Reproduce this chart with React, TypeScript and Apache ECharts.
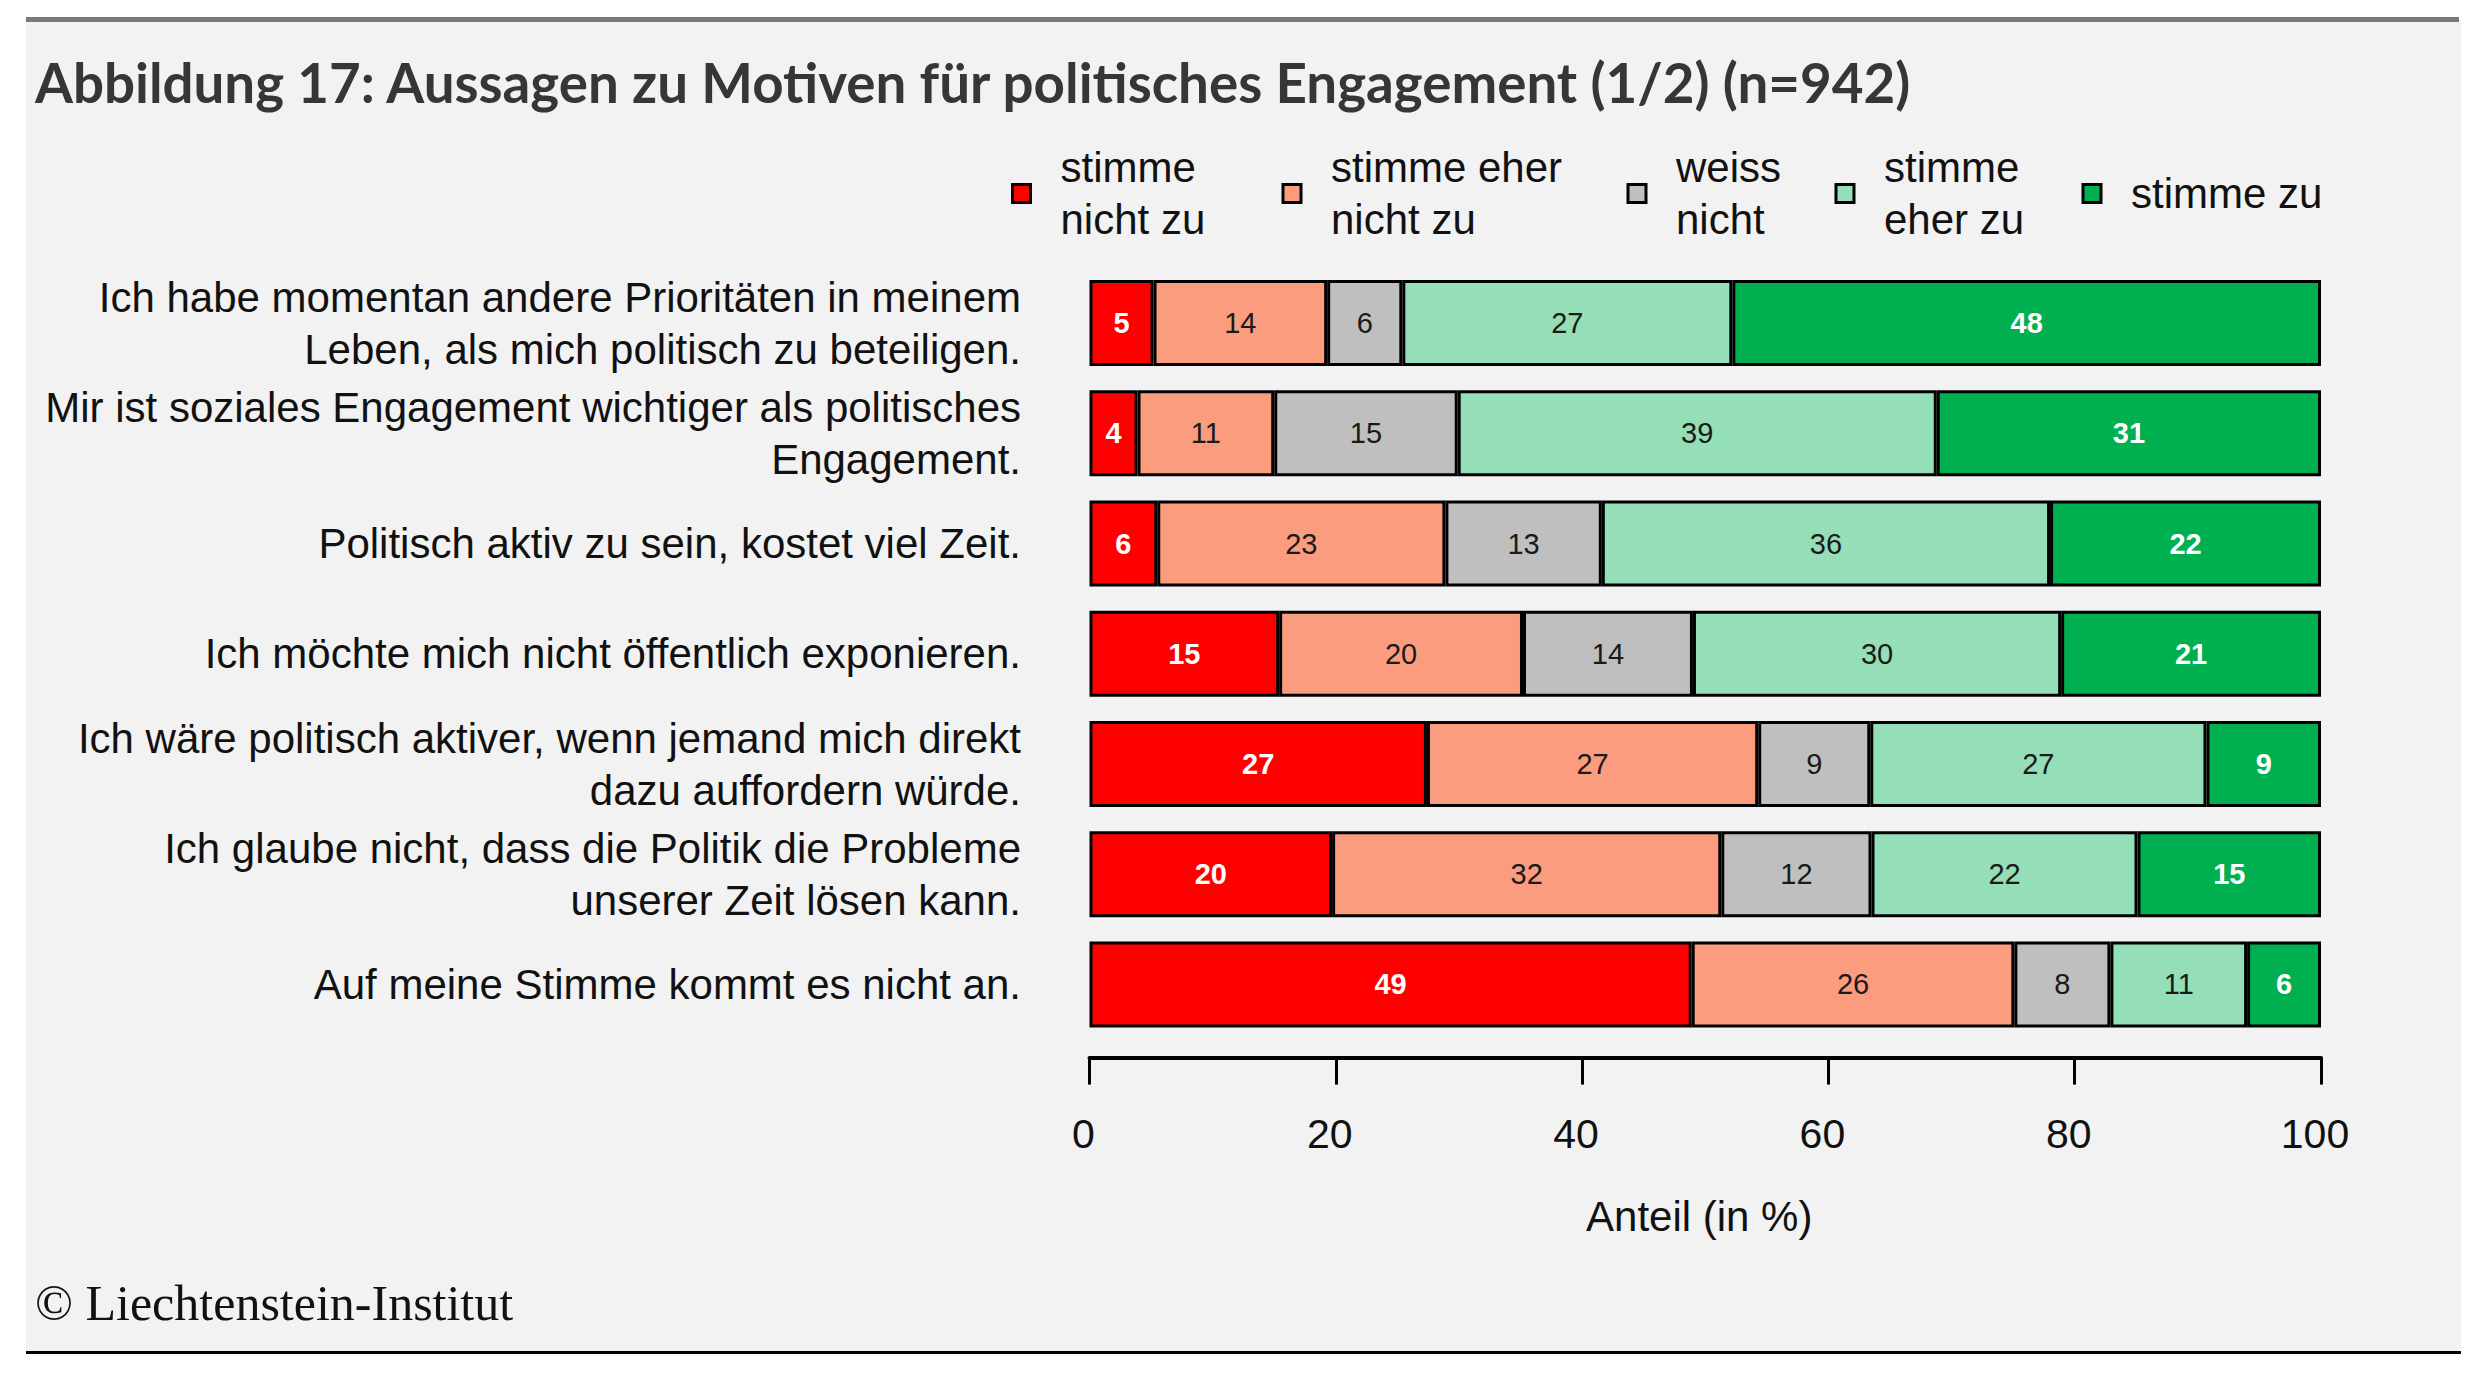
import React, { useEffect, useRef } from "react";
import * as echarts from "echarts";

const TITLE = "Abbildung 17: Aussagen zu Motiven für politisches Engagement (1/2) (n=942)";
const AXIS_NAME = "Anteil (in %)";
const COPYRIGHT = "© Liechtenstein-Institut";

const categories = [
  "Ich habe momentan andere Prioritäten in meinem\nLeben, als mich politisch zu beteiligen.",
  "Mir ist soziales Engagement wichtiger als politisches\nEngagement.",
  "Politisch aktiv zu sein, kostet viel Zeit.",
  "Ich möchte mich nicht öffentlich exponieren.",
  "Ich wäre politisch aktiver, wenn jemand mich direkt\ndazu auffordern würde.",
  "Ich glaube nicht, dass die Politik die Probleme\nunserer Zeit lösen kann.",
  "Auf meine Stimme kommt es nicht an.",
];

const seriesNames = [
  "stimme\nnicht zu",
  "stimme eher\nnicht zu",
  "weiss\nnicht",
  "stimme\neher zu",
  "stimme zu",
];

const stimmeNichtZu = [5.2, 3.9, 5.5, 15.4, 27.4, 19.7, 48.9];
const stimmeEherNichtZu = [14.1, 11.1, 23.4, 19.8, 26.9, 31.6, 26.2];
const weissNicht = [6.1, 14.9, 12.7, 13.8, 9.1, 12.2, 7.8];
const stimmeEherZu = [26.8, 38.9, 36.4, 29.9, 27.3, 21.6, 11.1];
const stimmeZu = [47.8, 31.2, 22.0, 21.1, 9.3, 14.9, 6.0];

const seriesValues = [stimmeNichtZu, stimmeEherNichtZu, weissNicht, stimmeEherZu, stimmeZu];
const colors = ["#FF0000", "#FA9C7D", "#BFBFBF", "#94DEB8", "#00B050"];
const labelColors = ["#FFFFFF", "#1a1a1a", "#1a1a1a", "#1a1a1a", "#FFFFFF"];
const labelWeights = ["bold", "normal", "normal", "normal", "bold"];

const xTicks = [0, 20, 40, 60, 80, 100];

const FONT = "'Liberation Sans', Arial, sans-serif";

export default function App() {
  const ref = useRef<HTMLDivElement>(null);

  useEffect(() => {
    if (!ref.current) return;
    const chart = echarts.init(ref.current, undefined, { renderer: "svg" });

    const legendLefts = [1011, 1281.5, 1626.5, 1834.5, 2081.5];

    const option: any = {
      animation: false,
      backgroundColor: "#FFFFFF",
      textStyle: { fontFamily: FONT },
      title: {
        text: TITLE,
        left: 35,
        top: 54,
        padding: 0,
        textStyle: {
          fontFamily: "Lato, 'Open Sans', sans-serif",
          fontWeight: "bold",
          fontSize: 54.7,
          color: "#363636",
        },
      },
      graphic: [
        {
          type: "rect",
          z: -10,
          silent: true,
          shape: { x: 26, y: 20, width: 2435, height: 1332 },
          style: { fill: "#F2F2F2" },
        },
        {
          type: "rect",
          z: -9,
          silent: true,
          shape: { x: 26, y: 17, width: 2433, height: 5 },
          style: { fill: "#7A7A7A" },
        },
        {
          type: "rect",
          z: -9,
          silent: true,
          shape: { x: 26, y: 1351, width: 2435, height: 3 },
          style: { fill: "#000000" },
        },
        {
          type: "text",
          z: 5,
          x: 35,
          y: 1303,
          style: {
            text: COPYRIGHT,
            font: "50px 'Liberation Serif', 'DejaVu Serif', serif",
            fill: "#111111",
            verticalAlign: "middle",
            align: "left",
          },
        },
      ],
      legend: seriesNames.map((name, i) => ({
        data: [name],
        left: legendLefts[i],
        top: name.indexOf("\n") >= 0 ? 141.5 : 167.5,
        padding: 0,
        itemWidth: 18,
        itemHeight: 18,
        itemGap: 0,
        icon: "rect",
        selectedMode: false,
        itemStyle: { borderColor: "#000000", borderWidth: 3 },
        textStyle: {
          fontFamily: FONT,
          fontSize: 42,
          lineHeight: 52,
          color: "#111111",
          padding: [0, 0, 0, 25],
        },
      })),
      grid: { left: 1089.5, right: 162, top: 268, bottom: 348.4, containLabel: false },
      xAxis: {
        type: "value",
        min: xTicks[0],
        max: xTicks[xTicks.length - 1],
        interval: 20,
        offset: 18,
        axisLine: { show: true, lineStyle: { color: "#000000", width: 4 } },
        axisTick: { show: true, length: 27, lineStyle: { color: "#000000", width: 3 } },
        splitLine: { show: false },
        axisLabel: {
          fontFamily: FONT,
          fontSize: 41,
          color: "#111111",
          margin: 56,
          padding: [0, 12, 0, 0],
        },
        name: AXIS_NAME,
        nameLocation: "middle",
        nameGap: 138,
        nameTextStyle: {
          fontFamily: FONT,
          fontSize: 42,
          color: "#111111",
          padding: [0, 12, 0, 0],
        },
      },
      yAxis: {
        type: "category",
        inverse: true,
        data: categories,
        axisLine: { show: false },
        axisTick: { show: false },
        splitLine: { show: false },
        axisLabel: {
          fontFamily: FONT,
          fontSize: 42,
          lineHeight: 52,
          color: "#111111",
          margin: 68.5,
          align: "right",
        },
      },
      series: seriesNames.map((name, i) => ({
        name,
        type: "bar",
        stack: "total",
        barWidth: 86,
        data: seriesValues[i],
        itemStyle: { color: colors[i], borderColor: "#000000", borderWidth: 3 },
        label: {
          show: true,
          position: "inside",
          fontFamily: FONT,
          fontSize: 29,
          fontWeight: labelWeights[i],
          color: labelColors[i],
          formatter: (p: any) => String(Math.round(p.value)),
        },
      })),
    };

    chart.setOption(option);
    return () => chart.dispose();
  }, []);

  return (
    <div
      ref={ref}
      style={{ position: "absolute", left: 0, top: 0, width: 2483, height: 1388 }}
    />
  );
}
